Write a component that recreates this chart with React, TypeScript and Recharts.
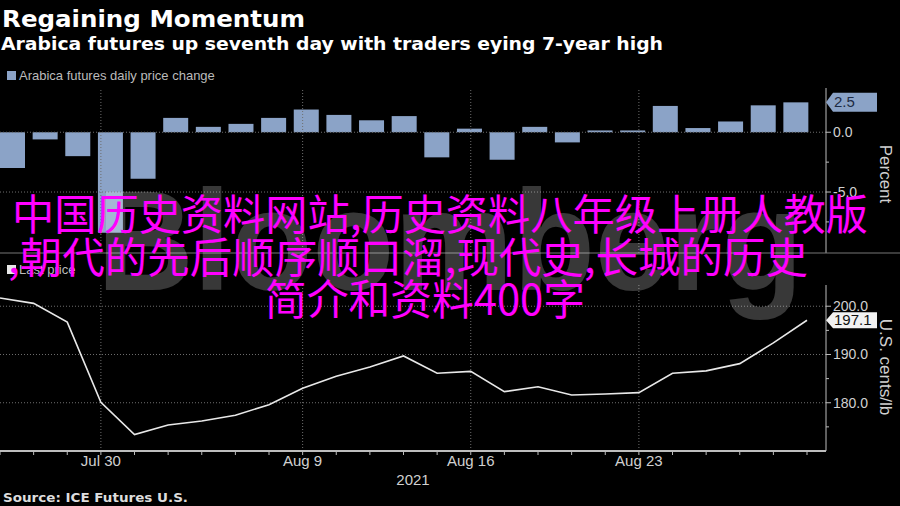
import { BarChart, Bar, LineChart, Line, XAxis, YAxis, ReferenceLine } from 'recharts'

// trading days shown on the chart
const dates = [
  'Jul 27', 'Jul 28', 'Jul 29', 'Jul 30',
  'Aug 2', 'Aug 3', 'Aug 4', 'Aug 5', 'Aug 6',
  'Aug 9', 'Aug 10', 'Aug 11', 'Aug 12', 'Aug 13',
  'Aug 16', 'Aug 17', 'Aug 18', 'Aug 19', 'Aug 20',
  'Aug 23', 'Aug 24', 'Aug 25', 'Aug 26', 'Aug 27',
  'Aug 30'
]

// daily price change, percent
const dailyChange = [
  -3.0, -0.6, -2.0, -8.4, -3.9, 1.2, 0.45, 0.7, 1.2, 1.9, 1.45, 1.0, 1.35,
  -2.1, 0.3, -2.3, 0.45, -0.85, 0.15, 0.15, 2.2, 0.35, 0.9, 2.25, 2.5
]

// last price, U.S. cents/lb
const lastPrice = [
  201.7, 200.6, 196.7, 180.1, 173.4, 175.4, 176.2, 177.4, 179.6, 183.0, 185.5, 187.4, 189.7,
  186.1, 186.5, 182.3, 183.3, 181.6, 181.8, 182.1, 186.1, 186.6, 188.1, 192.4, 197.1
]

const labeledDates = ['Jul 30', 'Aug 9', 'Aug 16', 'Aug 23']
const changeTicks = [-7.5, -5, -2.5, 0, 2.5]
const changeGrid = [-5, 0]
const priceTicks = [175, 180, 185, 190, 195, 200]
const priceGrid = [180, 190, 200]

const rows = dates.map((date, i) => ({ i, date, change: dailyChange[i], price: lastPrice[i] }))
const lastChange = dailyChange[dailyChange.length - 1]
const lastClose = lastPrice[lastPrice.length - 1]

const BAR = '#8ba3c7'
const AXIS = '#bdbdbd'
const GRID = '#6e6e6e'
const TEXT = '#d0d0d0'
const SANS = "'Liberation Sans', Arial, sans-serif"
const BOLD = "'DejaVu Sans', Verdana, sans-serif"
const CJK = "'Noto Sans CJK SC', 'Noto Sans CJK JP', sans-serif"

function Badge({ x, y, text, fill, color, h }: any) {
  const w = 51
  return (
    <g>
      <path
        d={`M${x},${y} L${x + 7},${y - h / 2} L${x + w},${y - h / 2} L${x + w},${y + h / 2} L${x + 7},${y + h / 2} Z`}
        fill={fill}
      />
      <text x={x + 8} y={y} dy={5} fontSize={15} fill={color} fontFamily={SANS}>
        {text}
      </text>
    </g>
  )
}

function ChangeTick({ x, y, payload }: any) {
  const v = payload.value
  if (v === lastChange) {
    return <Badge x={x} y={y} text={v.toFixed(1)} fill={BAR} color='#1d2b44' h={19} />
  }
  const major = v % 5 === 0
  return (
    <g>
      <line x1={x} x2={x + (major ? 5 : 3)} y1={y} y2={y} stroke={AXIS} />
      {major && (
        <text x={x + 7} y={y} dy={5} fontSize={14} fill={TEXT} fontFamily={SANS}>
          {v.toFixed(1)}
        </text>
      )}
    </g>
  )
}

function PriceTick({ x, y, payload }: any) {
  const v = payload.value
  if (v === lastClose) {
    return <Badge x={x} y={y} text={v.toFixed(1)} fill='#f2f2f2' color='#111' h={16} />
  }
  const major = v % 10 === 0
  return (
    <g>
      <line x1={x} x2={x + (major ? 5 : 3)} y1={y} y2={y} stroke={AXIS} />
      {major && (
        <text x={x + 7} y={y} dy={5} fontSize={14} fill={TEXT} fontFamily={SANS}>
          {v.toFixed(1)}
        </text>
      )}
    </g>
  )
}

function DayTick({ x, y, payload }: any) {
  const labeled = labeledDates.includes(payload.value)
  return (
    <g>
      <line x1={x} x2={x} y1={y} y2={y + 4} stroke={AXIS} />
      {labeled && (
        <text x={x} y={y + 15} textAnchor='middle' fontSize={15} fill={TEXT} fontFamily={SANS}>
          {payload.value}
        </text>
      )}
    </g>
  )
}

export default function App() {
  return (
    <div
      style={{
        position: 'absolute',
        left: 0,
        top: 0,
        width: 900,
        height: 506,
        background: '#000',
        overflow: 'hidden'
      }}
    >
      <div style={{ position: 'absolute', left: 0, top: 0 }}>
        <BarChart width={900} height={260} data={rows} margin={{ top: 88, right: 0, bottom: 7, left: 0 }}>
          <XAxis xAxisId='bars' dataKey='date' hide padding={{ left: -4, right: 14 }} />
          <XAxis xAxisId='days' dataKey='i' type='number' domain={[0, dates.length - 1]} hide padding={{ left: 0, right: 19 }} />
          <YAxis
            yAxisId='pct'
            orientation='right'
            width={74}
            domain={[-10.1, 3.7]}
            ticks={Array.from(new Set([...changeTicks, lastChange]))}
            interval={0}
            tickLine={false}
            tickSize={0}
            tickMargin={0}
            axisLine={{ stroke: AXIS }}
            tick={<ChangeTick />}
          />
          {changeGrid.map((v) => (
            <ReferenceLine key={v} xAxisId='bars' yAxisId='pct' y={v} stroke={GRID} strokeDasharray='1 2' />
          ))}
          {labeledDates.map((d) => (
            <ReferenceLine key={d} xAxisId='days' yAxisId='pct' x={dates.indexOf(d)} stroke={GRID} strokeDasharray='1 2' />
          ))}
          <Bar xAxisId='bars' yAxisId='pct' dataKey='change' fill={BAR} barSize={25} isAnimationActive={false} />
        </BarChart>
      </div>

      <div style={{ position: 'absolute', left: 0, top: 260 }}>
        <LineChart width={900} height={240} data={rows} margin={{ top: 25, right: 0, bottom: 19, left: 0 }}>
          <XAxis
            dataKey='date'
            interval={0}
            height={30}
            padding={{ left: 0, right: 19 }}
            tickLine={false}
            tickSize={0}
            tickMargin={0}
            axisLine={{ stroke: AXIS, strokeWidth: 2 }}
            tick={<DayTick />}
          />
          <YAxis
            orientation='right'
            width={74}
            domain={[170, 204.4]}
            ticks={[...priceTicks, lastClose]}
            interval={0}
            tickLine={false}
            tickSize={0}
            tickMargin={0}
            axisLine={{ stroke: AXIS }}
            tick={<PriceTick />}
          />
          {priceGrid.map((v) => (
            <ReferenceLine key={v} y={v} stroke={GRID} strokeDasharray='1 2' />
          ))}
          {labeledDates.map((d) => (
            <ReferenceLine key={d} x={d} stroke={GRID} strokeDasharray='1 2' />
          ))}
          <Line dataKey='price' stroke='#e8e8e8' strokeWidth={1.6} dot={false} type='linear' isAnimationActive={false} />
        </LineChart>
      </div>

      <svg width={900} height={506} style={{ position: 'absolute', left: 0, top: 0, pointerEvents: 'none' }}>
        <text x={2} y={27} fontSize={23} fontWeight='bold' fill='#fff' fontFamily={BOLD} textLength={303} lengthAdjust='spacingAndGlyphs'>
          Regaining Momentum
        </text>
        <text x={1} y={50} fontSize={17} fontWeight='bold' fill='#fff' fontFamily={BOLD} textLength={662} lengthAdjust='spacingAndGlyphs'>
          Arabica futures up seventh day with traders eying 7-year high
        </text>

        <rect x={7} y={71} width={9} height={9} fill={BAR} />
        <text x={19} y={80} fontSize={13} fill='#bbb' fontFamily={SANS}>
          Arabica futures daily price change
        </text>
        <rect x={7} y={265} width={9} height={9} fill='#e8e8e8' />
        <text x={19} y={274} fontSize={13} fill='#bbb' fontFamily={SANS}>
          Last price
        </text>

        <line x1={0} x2={900} y1={253} y2={253} stroke='#777' />

        <text x={880} y={174} fontSize={17} fill={TEXT} fontFamily={SANS} textAnchor='middle' transform='rotate(90 880 174)'>
          Percent
        </text>
        <text x={880} y={367} fontSize={17} fill={TEXT} fontFamily={SANS} textAnchor='middle' transform='rotate(90 880 367)'>
          U.S. cents/lb
        </text>

        <text x={413} y={485} fontSize={15} fill={TEXT} fontFamily={SANS} textAnchor='middle'>
          2021
        </text>
        <text x={3} y={502} fontSize={12} fontWeight='bold' fill='#ddd' fontFamily={BOLD} textLength={185} lengthAdjust='spacingAndGlyphs'>
          Source: ICE Futures U.S.
        </text>

        <text x={97} y={290} fontSize={143} fontWeight='bold' fill='#fff' fillOpacity={0.22} fontFamily={SANS} textLength={706} lengthAdjust='spacingAndGlyphs'>
          Bloomberg
        </text>

        <g fill='#ff00ff' fontFamily={CJK} fontSize={42}>
          <text x={12} y={230} textLength={856} lengthAdjust='spacingAndGlyphs'>
            中国历史资料网站,历史资料八年级上册人教版
          </text>
          <text x={8} y={273} textLength={800} lengthAdjust='spacingAndGlyphs'>
            ,朝代的先后顺序顺口溜,现代史,长城的历史
          </text>
          <text x={265} y={315} textLength={320} lengthAdjust='spacingAndGlyphs'>
            简介和资料400字
          </text>
        </g>
      </svg>
    </div>
  )
}
